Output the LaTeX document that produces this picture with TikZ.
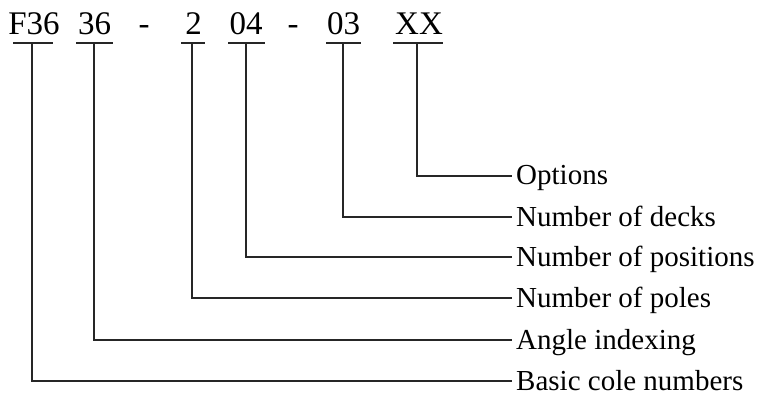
\documentclass[tikz,border=0pt]{standalone}
\usepackage{fontspec}
\setmainfont{Liberation Serif}
\begin{document}
\begin{tikzpicture}[x=1pt,y=-1pt,
  part/.style={inner sep=0pt,anchor=base,font=\fontsize{33}{33}\selectfont},
  lbl/.style={inner sep=0pt,anchor=base west,text depth=0pt,font=\fontsize{29}{29}\selectfont},
  ln/.style={line width=1.3pt,color=black!85}]
\useasboundingbox (0,0) rectangle (770,395);
% top code
\node[part] (p1) at (34,35) {F36};
\node[part] (p2) at (94.5,35) {36};
\node[part] (d1) at (144,35) {-};
\node[part] (p3) at (193.5,35) {2};
\node[part] (p4) at (246,35) {04};
\node[part] (d2) at (293,35) {-};
\node[part] (p5) at (343.5,35) {03};
\node[part] (p6) at (419,35) {XX};
% underline midpoints
\coordinate (u1) at (32,43);
\coordinate (u2) at (94,43);
\coordinate (u3) at (192,43);
\coordinate (u4) at (246,43);
\coordinate (u5) at (343,43);
\coordinate (u6) at (417,43);
% labels
\node[lbl] (l6) at (516,185) {Options};
\node[lbl] (l5) at (516,226) {Number of decks};
\node[lbl] (l4) at (516,266) {Number of positions};
\node[lbl] (l3) at (516,307) {Number of poles};
\node[lbl] (l2) at (516,349) {Angle indexing};
\node[lbl] (l1) at (516,390) {Basic cole numbers};
% underlines
\draw[ln] ([xshift=-19pt]u1) -- ([xshift=21pt]u1);
\draw[ln] ([xshift=-18pt]u2) -- ([xshift=19pt]u2);
\draw[ln] ([xshift=-11pt]u3) -- ([xshift=13pt]u3);
\draw[ln] ([xshift=-18pt]u4) -- ([xshift=19pt]u4);
\draw[ln] ([xshift=-17pt]u5) -- ([xshift=18pt]u5);
\draw[ln] ([xshift=-24pt]u6) -- ([xshift=26pt]u6);
% connectors
\draw[ln] (u1) |- ([xshift=-4pt,yshift=9pt]l1.base west);
\draw[ln] (u2) |- ([xshift=-4pt,yshift=9pt]l2.base west);
\draw[ln] (u3) |- ([xshift=-4pt,yshift=9pt]l3.base west);
\draw[ln] (u4) |- ([xshift=-4pt,yshift=9pt]l4.base west);
\draw[ln] (u5) |- ([xshift=-4pt,yshift=9pt]l5.base west);
\draw[ln] (u6) |- ([xshift=-4pt,yshift=9pt]l6.base west);
\end{tikzpicture}
\end{document}
